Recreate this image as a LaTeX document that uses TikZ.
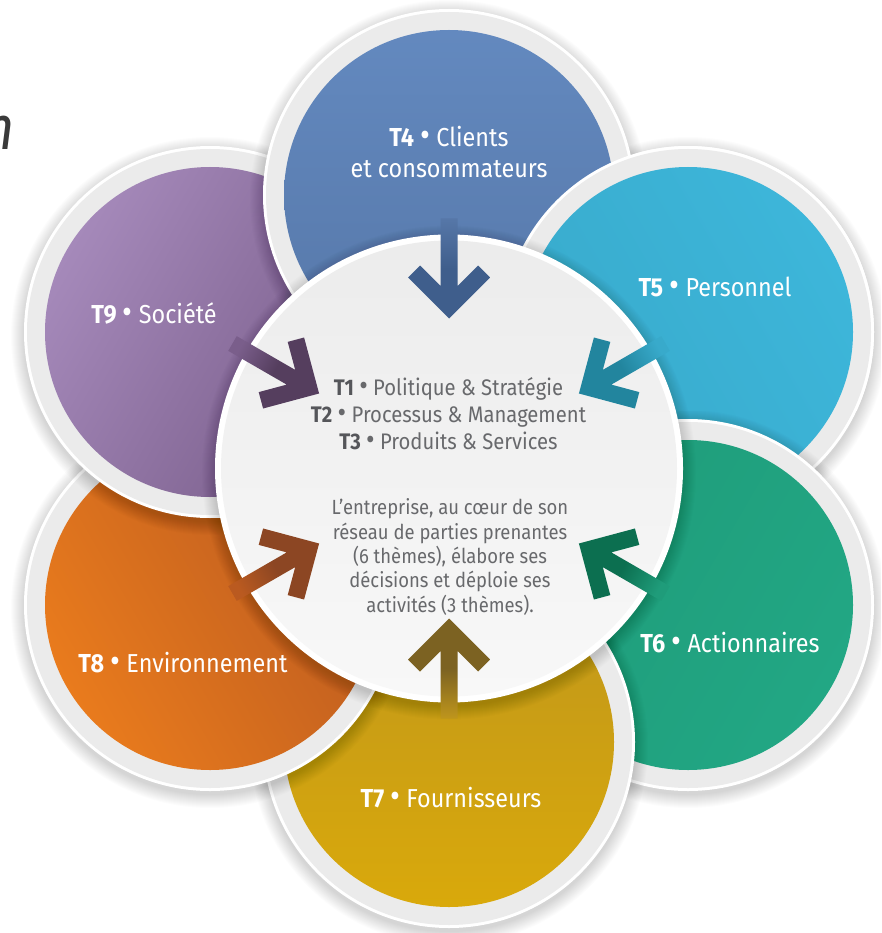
\documentclass[tikz,border=0pt]{standalone}
\usepackage{fontspec}
\setmainfont{Fira Sans}[FakeStretch=0.9]
\usetikzlibrary{calc}
\definecolor{ringgray}{HTML}{EBEBEB}
\definecolor{blueA}{HTML}{6389BF}\definecolor{blueD}{HTML}{5677A8}\definecolor{blueArrow}{HTML}{3F5E8C}
\definecolor{cyanA}{HTML}{3DB6DA}\definecolor{cyanD}{HTML}{38AACB}\definecolor{cyanArrow}{HTML}{22859E}
\definecolor{greenA}{HTML}{22A784}\definecolor{greenD}{HTML}{1F9C7A}\definecolor{greenArrow}{HTML}{0C6F50}
\definecolor{yellowA}{HTML}{D9A90B}\definecolor{yellowD}{HTML}{BF961C}\definecolor{yellowArrow}{HTML}{7C6222}
\definecolor{orangeA}{HTML}{E97B1D}\definecolor{orangeD}{HTML}{BA5A20}\definecolor{orangeArrow}{HTML}{8C4623}
\definecolor{purpleA}{HTML}{A589BA}\definecolor{purpleD}{HTML}{7A5E8B}\definecolor{purpleArrow}{HTML}{553E5E}
\definecolor{centerTop}{HTML}{ECECEC}\definecolor{centerBot}{HTML}{F8F8F8}
\definecolor{tdark}{HTML}{55565A}\definecolor{tgray}{HTML}{68696C}
\definecolor{fragment}{HTML}{3A3A3A}
\newcommand\bul{\scalebox{1.3}{•}}
\newcommand\outerdisk[4]{%
  \foreach \k in {1,...,14}{\fill[black,opacity=0.011] ($(#1)+(0,4)$) circle[radius=185pt+\k pt];}
  \fill[white] (#1) circle[radius=186pt];
  \fill[ringgray] (#1) circle[radius=183pt];
  \shade[top color=#3, bottom color=#2, shading angle=#4] (#1) circle[radius=165pt];
}
\newcommand\outerdisknoshadow[4]{%
  \fill[white] (#1) circle[radius=186pt];
  \fill[ringgray] (#1) circle[radius=183pt];
  \shade[top color=#3, bottom color=#2, shading angle=#4] (#1) circle[radius=165pt];
}
\tikzset{
  lbl/.style={text=white, font=\fontsize{26}{31}\selectfont, align=center, inner sep=0pt},
  ctext/.style={text=tgray, font=\fontsize{22.5}{27}\selectfont, align=center, inner sep=0pt},
  ptext/.style={text=tgray, font=\fontsize{20.5}{24.4}\selectfont, align=center, inner sep=0pt}
}
\begin{document}
\begin{tikzpicture}[x=1pt,y=-1pt]
\useasboundingbox (0,0) rectangle (881,933);
\fill[white] (0,0) rectangle (881,933);
\clip (0,0) rectangle (881,933);
\coordinate (C) at (449,468.5);
\coordinate (c4) at (449,195);
\coordinate (c5) at (688,332);
\coordinate (c6) at (688,605);
\coordinate (c7) at (449,742);
\coordinate (c8) at (210,605);
\coordinate (c9) at (210,332);
% fragment of a word at the left edge (cut off in the reference too)
\node[anchor=base east, inner sep=0pt, text=fragment, font=\fontsize{62}{62}\selectfont\itshape] (frag) at (15,150) {n};
% outer bubbles (cyclic overlap)
\outerdisk{c5}{cyanA}{cyanD}{120}
\outerdisk{c6}{greenA}{greenD}{60}
\outerdisk{c7}{yellowA}{yellowD}{0}
\outerdisk{c8}{orangeA}{orangeD}{-60}
\outerdisk{c9}{purpleA}{purpleD}{240}
\outerdisk{c4}{blueA}{blueD}{180}
\begin{scope}
  \clip (495,0) rectangle (881,410);
  \outerdisknoshadow{c5}{cyanA}{cyanD}{120}
\end{scope}
% central circle
\foreach \k in {1,...,14}{\fill[black,opacity=0.012] ($(C)+(0,4)$) circle[radius=233pt+\k pt];}
\fill[white] (C) circle[radius=234pt];
\shade[top color=centerTop, bottom color=centerBot] (C) circle[radius=228pt];
% arrows
\foreach \ps/\lc/\dc/\nm in {90/blueD/blueArrow/a4, 30/cyanD/cyanArrow/a5, -30/greenD/greenArrow/a6, -90/yellowD/yellowArrow/a7, -150/orangeD/orangeArrow/a8, 150/purpleD/purpleArrow/a9}{
  \pgfmathsetmacro\sa{\ps+90}
  \pgfmathsetmacro\th{0-\ps}
  \pgfmathsetmacro\tp{90-\ps}
  \coordinate (\nm-1) at ($(C)+(\th:150)$);
  \coordinate (\nm-2) at ($(C)+(\th:191)+(\tp:41)$);
  \coordinate (\nm-3) at ($(C)+(\th:203)+(\tp:29)$);
  \coordinate (\nm-4) at ($(C)+(\th:182.5)+(\tp:8.5)$);
  \coordinate (\nm-5) at ($(C)+(\th:250)+(\tp:8.5)$);
  \coordinate (\nm-6) at ($(C)+(\th:250)+(\tp:-8.5)$);
  \coordinate (\nm-7) at ($(C)+(\th:182.5)+(\tp:-8.5)$);
  \coordinate (\nm-8) at ($(C)+(\th:203)+(\tp:-29)$);
  \coordinate (\nm-9) at ($(C)+(\th:191)+(\tp:-41)$);
  \shade[top color=\dc, bottom color=\lc, middle color=\dc, shading angle=\sa]
    (\nm-1) -- (\nm-2) -- (\nm-3) -- (\nm-4) -- (\nm-5) -- (\nm-6) -- (\nm-7) -- (\nm-8) -- (\nm-9) -- cycle;
}
% labels
\node[lbl] (t4) at (449,152) {\textbf{T4} \bul{} Clients\\et consommateurs};
\node[lbl] (t5) at (715,287) {\textbf{T5} \bul{} Personnel};
\node[lbl] (t6) at (730,643) {\textbf{T6} \bul{} Actionnaires};
\node[lbl] (t7) at (451,798) {\textbf{T7} \bul{} Fournisseurs};
\node[lbl] (t8) at (183,663) {\textbf{T8} \bul{} Environnement};
\node[lbl] (t9) at (154,313) {\textbf{T9} \bul{} Société};
\node[ctext] (t123) at (448.5,414) {\textcolor{tdark}{\textbf{T1}} \bul{} Politique \& Stratégie\\\textcolor{tdark}{\textbf{T2}} \bul{} Processus \& Management\\\textcolor{tdark}{\textbf{T3}} \bul{} Produits \& Services};
\node[ptext] (desc) at (450,557) {L’entreprise, au cœur de son\\réseau de parties prenantes\\(6 thèmes), élabore ses\\décisions et déploie ses\\activités (3 thèmes).};
\end{tikzpicture}
\end{document}
